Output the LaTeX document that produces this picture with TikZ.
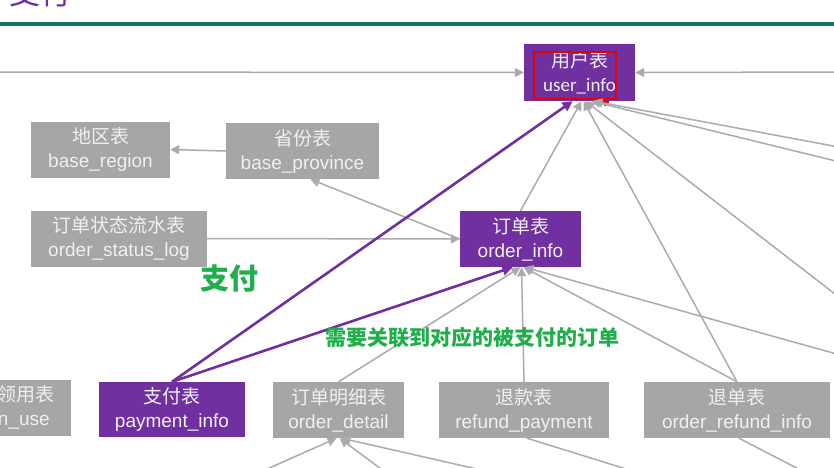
\documentclass[tikz,border=0pt]{standalone}
\usepackage{fontspec}
\setmainfont{Liberation Sans}
\newfontfamily\cjk{Noto Sans CJK SC}
\newfontfamily\calib{Carlito}
\usetikzlibrary{arrows.meta}
\definecolor{tblgray}{HTML}{A6A6A6}
\definecolor{tblpurple}{HTML}{7030A0}
\definecolor{linkgray}{HTML}{ABABAB}
\definecolor{notegreen}{HTML}{1FAE4B}
\definecolor{ruleteal}{HTML}{14706B}

\begin{document}
\begin{tikzpicture}[x=1pt, y=-1pt,
  tbl/.style={fill=tblgray, text=white!94!black, inner sep=0pt, align=center, minimum height=56pt, font=\fontsize{19}{24}\selectfont},
  hot/.style={tbl, fill=tblpurple},
  link/.style={draw=linkgray, line width=1.5pt, -{Triangle[length=9pt,width=9pt]}},
  tail/.style={draw=linkgray, line width=1.5pt},
  paid/.style={draw=tblpurple, line width=2.6pt, -{Triangle[length=10pt,width=10pt]}}]
% x, y in pixels of the slide, y downwards
\useasboundingbox (0,0) rectangle (834,467);
\clip (0,0) rectangle (834,467);
\node[anchor=base west, inner sep=0pt, text=tblpurple, font=\cjk\fontsize{31}{31}\selectfont] (title) at (9,4.5) {支付};
\draw[ruleteal, line width=4pt] (0,24) -- (834,24);
\draw[cyan!12, line width=1pt] (0,27.5) -- (834,27.5);
\node[hot, minimum width=111pt, minimum height=57pt] (user) at (579.5,72.5) {{\cjk 用户表}\\{\calib user\_info}};
\node[hot, minimum width=121pt] (order) at (520.5,239) {{\cjk 订单表}\\order\_info};
\node[hot, minimum width=146pt, minimum height=55pt] (payment) at (172,409.5) {{\cjk 支付表}\\payment\_info};
\foreach \n/\x/\y/\w/\c/\e in {region/100.5/149.5/139/地区表/base\_region, province/302.5/151/153/省份表/base\_province, statuslog/119/238.5/176/订单状态流水表/order\_status\_log, coupon/-2/407.5/146/优惠券领用表/coupon\_use, detail/338.5/410/131/订单明细表/order\_detail, refundpay/524/410/170/退款表/refund\_payment, refundinfo/737/410/186/退单表/order\_refund\_info}
  { \node[tbl, minimum width=\w pt] (\n) at (\x,\y) {{\cjk \c}\\\e}; }
\node[draw=red!90!black, line width=1.6pt, minimum width=82pt, minimum height=47pt] (mark) at (575,75.5) {};
\draw[red, line width=1.2pt] (601,102) -- (609,102) (605,98) -- (605,106);
% ends of links that leave the slide
\foreach \n/\x/\y in {offL/-10/72, offR/844/72, offR1/844/148, offR2/844/163, offR3/844/301, offR4/844/356, offB1/249/477, offB2/392/477, offB3/512/477, offB4/652/477, offB5/814/477}
  { \coordinate (\n) at (\x,\y); }
\draw[link] (offL) -- (user.west);
\draw[link] (offR) -- (user.east);
\foreach \s/\d in {offR1/14, offR2/12, offR3/6, refundinfo.north/4, order.north/2}
  { \draw[link] (\s) -- ([xshift=\d pt]user.south); }
\draw[link] (province.west) -- (region.east);
\draw[link] (order.west) -- ([xshift=8pt]province.south);
\draw[link] (statuslog.east) -- (order.west);
\foreach \s/\d in {detail.north/0, refundpay.north/1, refundinfo.north/3, offR4/4}
  { \draw[link] (\s) -- ([xshift=\d pt]order.south); }
\foreach \s/\d in {offB1/-2, offB2/1, offB3/3}
  { \draw[link] (\s) -- ([xshift=\d pt]detail.south); }
\draw[tail] ([xshift=3pt]refundpay.south) -- (offB4);
\draw[tail] ([xshift=2pt]refundinfo.south) -- (offB5);
\draw[paid] (payment.north) -- ([xshift=-7pt]user.south);
\draw[paid] (payment.north) -- ([xshift=-8pt]order.south);
\node[anchor=base west, inner sep=0pt, text=notegreen, font=\cjk\bfseries\fontsize{29}{29}\selectfont] (paynote) at (200,289) {支付};
\node[anchor=base west, inner sep=0pt, text=notegreen, font=\cjk\bfseries\fontsize{21}{21}\selectfont] (linknote) at (325,345) {需要关联到对应的被支付的订单};
\end{tikzpicture}
\end{document}
